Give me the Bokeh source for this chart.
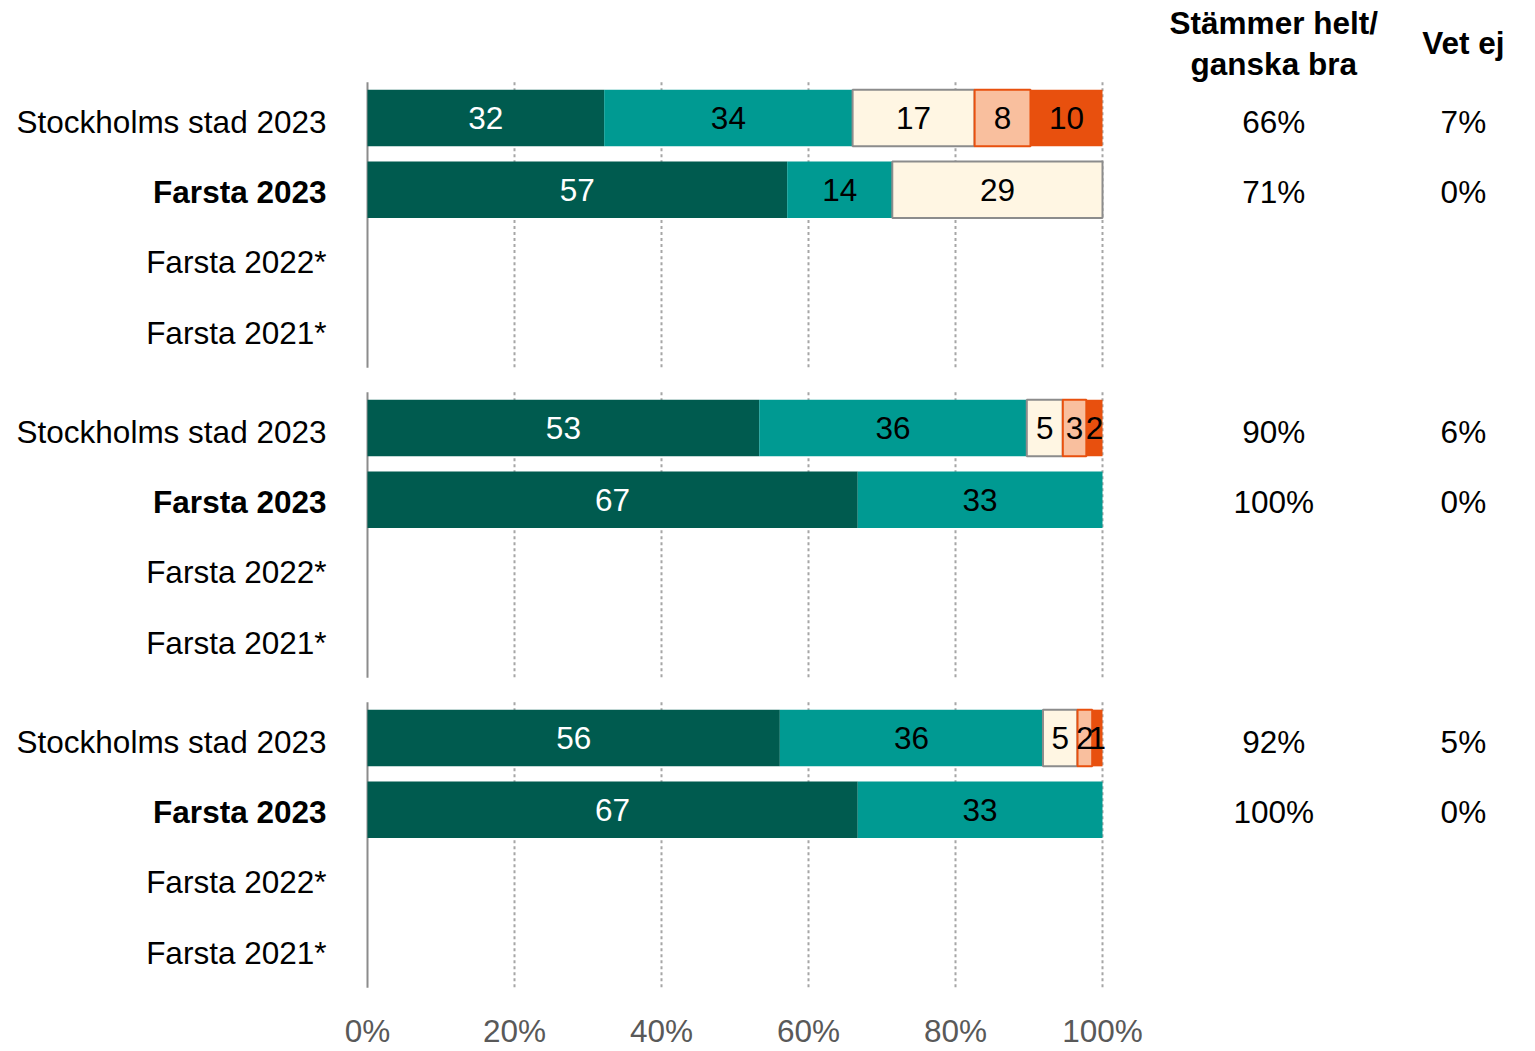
import numpy as np
from bokeh.plotting import figure
from bokeh.models import ColumnDataSource, Range1d
from bokeh.core.properties import value
from bokeh.embed import file_html
from bokeh.resources import INLINE

# ---------------- data ----------------
row_labels = ["Stockholms stad 2023", "Farsta 2023", "Farsta 2022*", "Farsta 2021*"]
row_bold = [True if r == "Farsta 2023" else False for r in row_labels]
n_groups = 3

# bars that carry data: group index and row index within group
bar_group = [0, 0, 1, 1, 2, 2]
bar_row = [0, 1, 0, 1, 0, 1]

series_names = ["Stämmer helt", "Stämmer ganska bra", "Varken eller",
                "Stämmer ganska dåligt", "Stämmer inte alls"]
stammer_helt = [32.2, 57.1, 53.3, 66.7, 56.1, 66.7]
stammer_ganska_bra = [33.8, 14.3, 36.4, 33.3, 35.8, 33.3]
varken_eller = [16.6, 28.6, 4.9, 0.0, 4.7, 0.0]
ganska_daligt = [7.6, 0.0, 3.2, 0.0, 2.0, 0.0]
inte_alls = [9.8, 0.0, 2.2, 0.0, 1.4, 0.0]

helt_ganska_bra_pct = [66, 71, 90, 100, 92, 100]
vet_ej_pct = [7, 0, 6, 0, 5, 0]

x_ticks = [0, 20, 40, 60, 80, 100]
header_left = ["Stämmer helt/", "ganska bra"]
header_right = "Vet ej"

# ---------------- styles ----------------
series_colors = ["#005B4F", "#009A92", "#FFF6E3", "#F9BF9E", "#E8500E"]
series_lines = [None, None, "#8C8C8C", "#E8500E", None]
label_colors = ["white", "black", "black", "black", "black"]
FONT = value("Liberation Sans")
FS = "31.5px"

GROUP_STEP = 4.3206
BAR_H = 0.79
LABEL_DY = 0.05

W, H = 1535, 1051
px_x = 7.35
px_y = 71.75
x0 = -367 / px_x
x1 = x0 + W / px_x
y_top = -117.5 / px_y
y_bot = y_top + H / px_y

p = figure(width=W, height=H, x_range=Range1d(x0, x1), y_range=Range1d(y_bot, y_top),
           output_backend="svg", toolbar_location=None, min_border=0,
           x_axis_type=None, y_axis_type=None)
p.outline_line_color = None
p.grid.visible = False
p.background_fill_color = "white"

# gridlines and axis line per group
g_top = [g * GROUP_STEP - 0.5 for g in range(n_groups)]
g_bot = [g * GROUP_STEP + 3.48 for g in range(n_groups)]
gx, gy0, gy1 = [], [], []
for g in range(n_groups):
    for t in x_ticks[1:]:
        gx.append(t); gy0.append(g_top[g]); gy1.append(g_bot[g])
p.segment(x0=gx, y0=gy0, x1=gx, y1=gy1, line_color="#A6A6A6", line_width=2, line_dash="3 3")
p.segment(x0=[x_ticks[0]] * n_groups, y0=g_top, x1=[x_ticks[0]] * n_groups, y1=g_bot,
          line_color="#8C8C8C", line_width=2)

# bars
series = [stammer_helt, stammer_ganska_bra, varken_eller, ganska_daligt, inte_alls]
bar_y = [g * GROUP_STEP + r for g, r in zip(bar_group, bar_row)]
cum = np.zeros(len(bar_y))
for i, vals in enumerate(series):
    vals = np.array(vals)
    left = cum.copy()
    right = cum + vals
    keep = vals > 0
    src = ColumnDataSource(dict(y=np.array(bar_y)[keep], left=left[keep], right=right[keep],
                                xm=((left + right) / 2)[keep],
                                lab=[str(int(round(v))) for v in vals[keep]]))
    if series_lines[i]:
        p.hbar(y="y", left="left", right="right", height=BAR_H, source=src,
               fill_color=series_colors[i], line_color=series_lines[i], line_width=2)
    else:
        p.hbar(y="y", left="left", right="right", height=BAR_H, source=src,
               fill_color=series_colors[i], line_color=None)
    p.text(x="xm", y="y", text="lab", source=src, text_align="center", text_baseline="middle",
           text_font=FONT, text_font_size=FS, text_color=label_colors[i])
    cum = right

# row labels
ly, lt, lb = [], [], []
for g in range(n_groups):
    for r, lab in enumerate(row_labels):
        ly.append(g * GROUP_STEP + r * 0.98 + LABEL_DY); lt.append(lab); lb.append(row_bold[r])
ly = np.array(ly); lb = np.array(lb); lt = np.array(lt)
p.text(x=[-5.58] * int((~lb).sum()), y=ly[~lb], text=list(lt[~lb]), text_align="right",
       text_baseline="middle", text_font=FONT, text_font_size=FS, text_color="black")
p.text(x=[-5.58] * int(lb.sum()), y=ly[lb], text=list(lt[lb]), text_align="right",
       text_baseline="middle", text_font=FONT, text_font_size=FS, text_color="black",
       text_font_style="bold")

# right columns
ry = [g * GROUP_STEP + r * 0.98 + LABEL_DY for g, r in zip(bar_group, bar_row)]
p.text(x=[123.3] * len(ry), y=ry, text=[f"{v}%" for v in helt_ganska_bra_pct],
       text_align="center", text_baseline="middle", text_font=FONT, text_font_size=FS,
       text_color="black")
p.text(x=[149.1] * len(ry), y=ry, text=[f"{v}%" for v in vet_ej_pct],
       text_align="center", text_baseline="middle", text_font=FONT, text_font_size=FS,
       text_color="black")

# headers
p.text(x=[123.3, 123.3], y=[-1.33, -0.75], text=header_left, text_align="center",
       text_baseline="middle", text_font=FONT, text_font_size=FS, text_color="black",
       text_font_style="bold")
p.text(x=[149.1], y=[-1.05], text=[header_right], text_align="center",
       text_baseline="middle", text_font=FONT, text_font_size=FS, text_color="black",
       text_font_style="bold")

# x tick labels
p.text(x=x_ticks, y=[12.72] * len(x_ticks), text=[f"{t}%" for t in x_ticks],
       text_align="center", text_baseline="middle", text_font=FONT, text_font_size=FS,
       text_color="#595959")

open("out.html", "w").write(file_html(p, INLINE))
